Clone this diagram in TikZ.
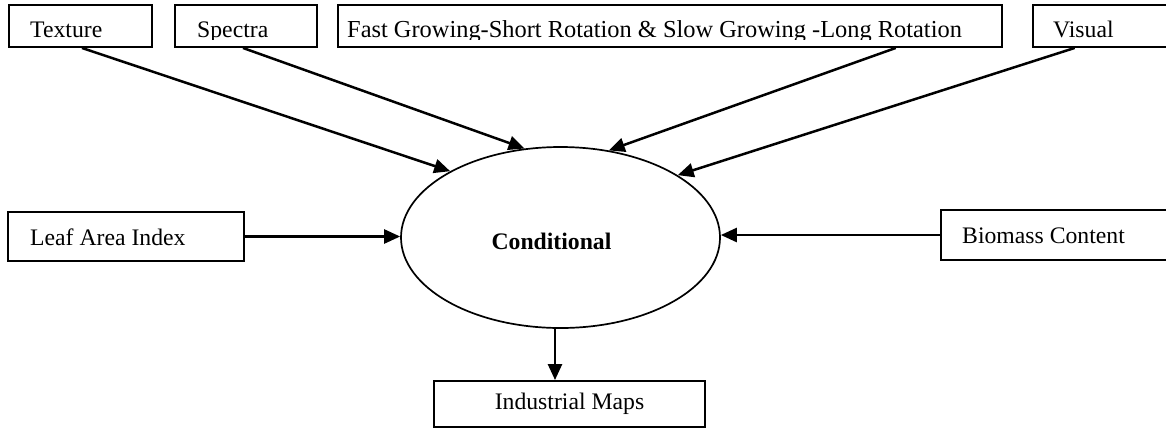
\documentclass[tikz,border=0pt]{standalone}
\usepackage{fontspec}
\setmainfont{Liberation Serif}
\usetikzlibrary{arrows.meta,shapes.geometric,calc}
\begin{document}
\begin{tikzpicture}[x=1pt,y=-1pt,
  box/.style={draw,line width=1.9pt,rectangle,inner sep=0pt},
  lbl/.style={anchor=base west,inner sep=0pt,font=\fontsize{23.7}{28}\selectfont},
  arr/.style={line width=2.5pt,-{Triangle[length=16pt,width=14pt]}}]
\clip (0,0) rectangle (1166,429);
\fill[white] (0,0) rectangle (1166,429);
% top boxes
\node[box,minimum width=143,minimum height=42] (tex) at (80.5,26) {};
\node[box,minimum width=142,minimum height=42] (spe) at (246,26) {};
\node[box,minimum width=664,minimum height=42] (fas) at (670,26) {};
\node[box,minimum width=142,minimum height=42] (vis) at (1104,26) {};
\begin{scope}
  \clip (0,0) rectangle (1166,39);
  \node[lbl] (textex) at (30,37.7) {Texture};
  \node[lbl] (textspe) at (197,37.7) {Spectra};
  \node[lbl] (textfas) at (347,37.7) {\fontsize{24.4}{28}\selectfont Fast Growing-Short Rotation \& Slow Growing -Long Rotation};
  \node[lbl] (textvis) at (1053,37.7) {Visual};
\end{scope}
% ellipse
\node[ellipse,draw,line width=1.7pt,minimum width=319,minimum height=181,inner sep=0pt,
      font=\fontsize{23.7}{28}\selectfont\bfseries] (cond) at (560.5,237.5)
      {\hspace*{-18pt}\raisebox{-3.5pt}[\height][\depth]{Conditional}};
% middle boxes
\node[box,minimum width=236,minimum height=49] (leaf) at (126,236.5) {};
\node[lbl] (leaft) at (30,245) {Leaf Area Index};
\node[box,minimum width=234,minimum height=50] (bio) at (1058,235) {};
\node[lbl] (biot) at (962,243) {Biomass Content};
% bottom box
\node[box,minimum width=271,minimum height=46,font=\fontsize{23.7}{28}\selectfont] (ind) at (569.5,404) {Industrial Maps};
% arrows
\draw[arr] ($(tex.south west)!0.51!(tex.south east)$) -- (cond.149.6);
\draw[arr] ($(spe.south west)!0.479!(spe.south east)$) -- (cond.112.7);
\draw[arr] ($(fas.south west)!0.839!(fas.south east)$) -- (cond.61.3);
\draw[arr] ($(vis.south west)!0.296!(vis.south east)$) -- (cond.28.2);
\draw[arr] (leaf.east) -- (leaf.east -| cond.west);
\draw[arr] (bio.west) -- (bio.west -| cond.east);
\draw[arr] ([xshift=-5.5pt]cond.south) -- ([xshift=-5.5pt]cond.south |- ind.north);
\end{tikzpicture}
\end{document}
